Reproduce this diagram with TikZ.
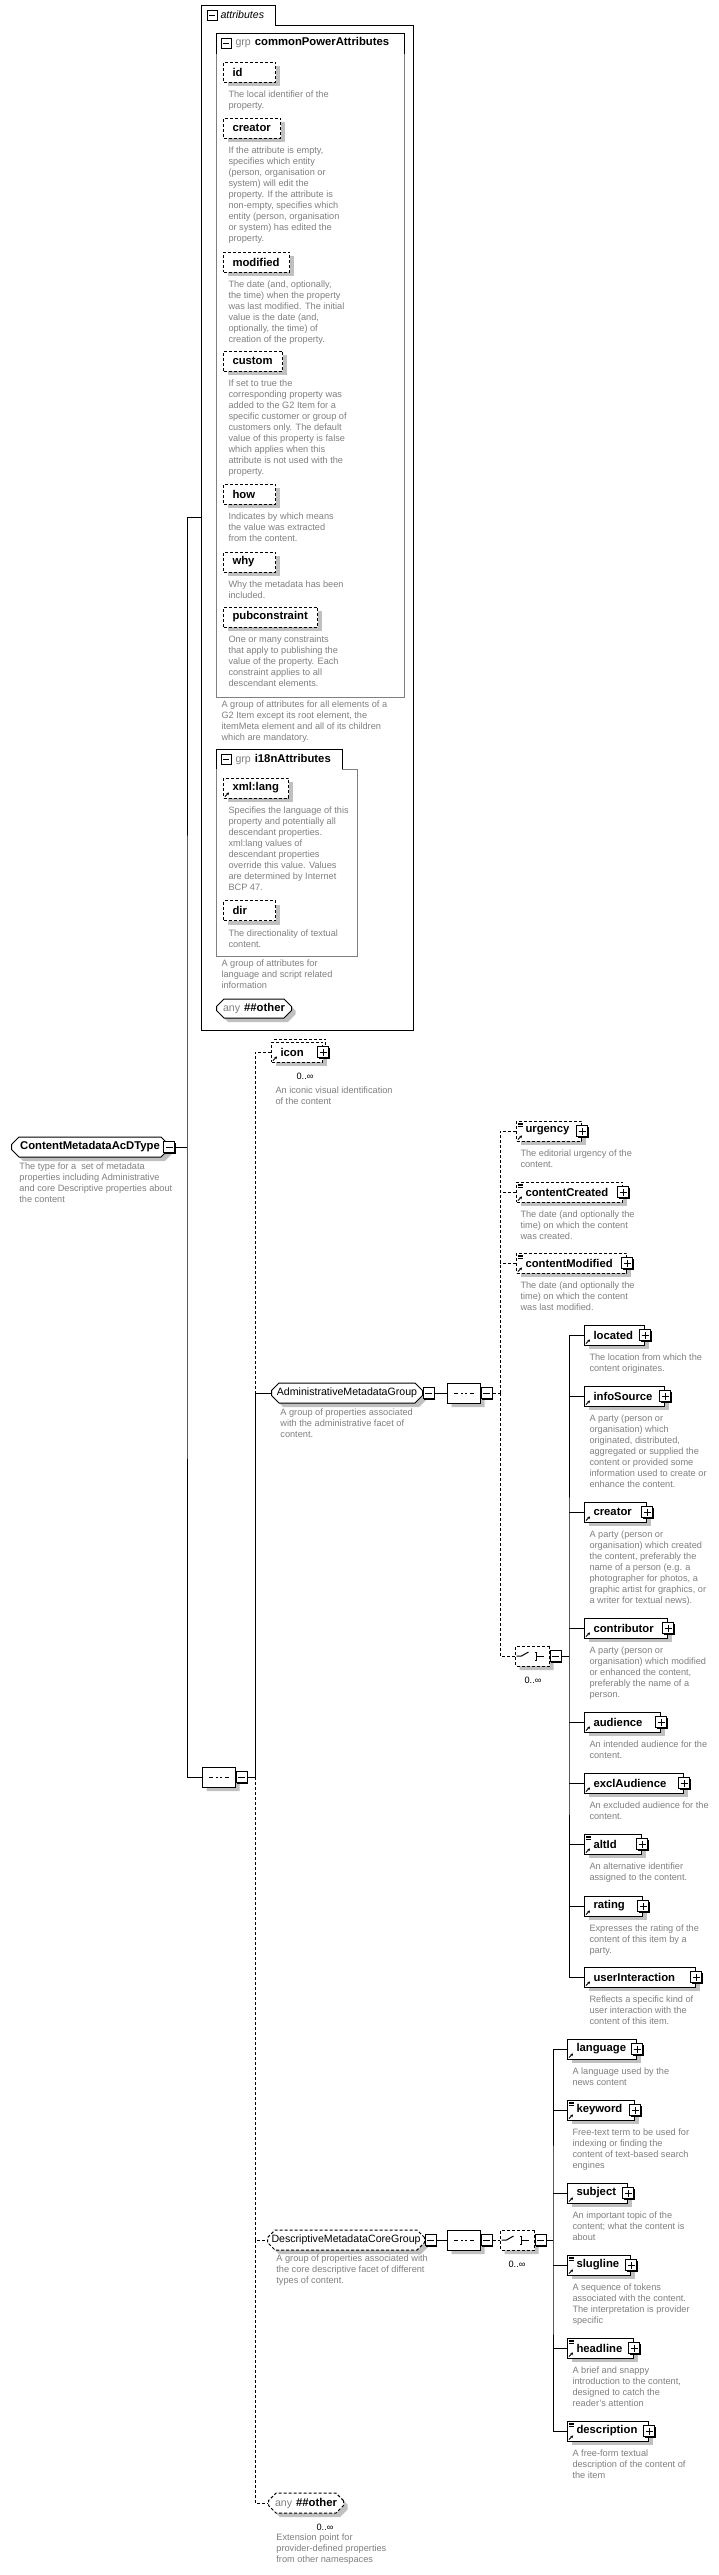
\documentclass[tikz,border=0pt]{standalone}
\usepackage{fontspec}
\setmainfont{Liberation Sans}
\usepackage{tikz}
\usetikzlibrary{arrows.meta,positioning,shapes.misc,shadows}
\definecolor{ink}{HTML}{000000}
\definecolor{muted}{HTML}{808080}
\definecolor{shadowgray}{HTML}{C0C0C0}
\definecolor{edgegray}{HTML}{808080}
\newcommand\lblfont{\fontsize{11.3}{13}\selectfont\bfseries\hyphenpenalty=10000 }
\newcommand\grpfont{\fontsize{10.6}{13}\selectfont\hyphenpenalty=10000 }
\newcommand\dscfont{\fontsize{9.2}{11}\selectfont}
\tikzset{
  shdw/.style={drop shadow={shadow xshift=4pt,shadow yshift=-4pt,fill=shadowgray,opacity=1}},
  opt/.style={dash pattern=on 3pt off 2pt},
  boxarea/.style={inner sep=0pt,anchor=north west},
  elem/.style={draw,fill=white,shdw,anchor=west,minimum height=20pt,inner xsep=9pt,inner ysep=0pt,text width=#1,align=left,font=\lblfont},
  attr/.style={elem=#1,opt},
  backbox/.style={draw,opt,fill=white,anchor=west,minimum width=51pt,minimum height=20pt,inner sep=0pt},
  refmark/.style={path picture={\draw[solid,line width=1pt,-{Stealth[length=2.5pt,width=3pt]}] ([shift={(1.5pt,1.5pt)}]path picture bounding box.south west) -- ++(4pt,4pt);}},
  simpleref/.style={path picture={
    \draw[solid,line width=1pt,-{Stealth[length=2.5pt,width=3pt]}] ([shift={(1.5pt,1.5pt)}]path picture bounding box.south west) -- ++(4pt,4pt);
    \foreach \d in {2pt,3.8pt,5.6pt}
      \draw[solid,line width=0.7pt] ([shift={(1.5pt,-\d)}]path picture bounding box.north west) -- ++(5pt,0pt);}},
  octa/.style={chamfered rectangle,chamfered rectangle xsep=4pt,draw,fill=white,shdw,minimum height=20pt,inner sep=0pt,anchor=west},
  grp/.style={octa,minimum width=#1,font=\grpfont},
  seqn/.style={octa,minimum width=33pt,path picture={
    \draw[solid] ([xshift=-10pt]path picture bounding box.center) -- ([xshift=10pt]path picture bounding box.center);
    \foreach \d in {-4.5pt,0pt,4.5pt}
      \fill ([xshift=\d]path picture bounding box.center) +(-1.4pt,-1.4pt) rectangle +(1.4pt,1.4pt);}},
  choicen/.style={octa,opt,minimum width=34pt,path picture={
    \coordinate (pc) at (path picture bounding box.center);
    \draw[solid] ([xshift=-16pt]pc) -- ([xshift=-11pt]pc) -- ([shift={(-4pt,4pt)}]pc);
    \draw[solid] ([shift={(2pt,4pt)}]pc) -- ([shift={(4pt,4pt)}]pc) -- ([shift={(4pt,-4pt)}]pc) -- ([shift={(2pt,-4pt)}]pc);
    \draw[solid] ([xshift=4pt]pc) -- ([xshift=11pt]pc);
    \foreach \d in {-4pt,0pt,4pt}
      \fill ([shift={(0pt,\d)}]pc) +(-1.3pt,-1.3pt) rectangle +(1.3pt,1.3pt);}},
  tog/.style={draw,solid,fill=white,minimum size=11pt,inner sep=0pt,line width=0.8pt,drop shadow={shadow xshift=1pt,shadow yshift=-1pt,fill=black,opacity=1}},
  minusbox/.style={tog,path picture={\draw ([xshift=-3.5pt]path picture bounding box.center) -- ([xshift=3.5pt]path picture bounding box.center);}},
  plusbox/.style={tog,path picture={\draw ([xshift=-3.5pt]path picture bounding box.center) -- ([xshift=3.5pt]path picture bounding box.center) ([yshift=-3.5pt]path picture bounding box.center) -- ([yshift=3.5pt]path picture bounding box.center);}},
  hdrtog/.style={draw,minimum size=10pt,inner sep=0pt,line width=0.9pt,path picture={\draw ([xshift=-3pt]path picture bounding box.center) -- ([xshift=3pt]path picture bounding box.center);}},
  desc/.style={font=\dscfont,text=muted,align=left,inner sep=0pt},
  mult/.style={font=\dscfont,text=ink,inner sep=0pt},
}
\begin{document}
\begin{tikzpicture}[x=1pt,y=-1pt,line width=1pt]
  \fill[white] (0,0) rectangle (719,2575);
  \useasboundingbox (0,0) rectangle (719,2575);

  % attributes
  \node[boxarea,minimum width=211pt,minimum height=1024pt] (attrs) at (201,5) {};
  \node[boxarea,minimum width=73pt,minimum height=19pt] (atab) at (201,5) {};
  \draw (attrs.south west) -- (atab.north west) -- (atab.north east) -- (atab.south east) -- (atab.south east -| attrs.east) -- (attrs.south east) -- cycle;
  \node[hdrtog] (atab-t) at (212,15) {};
  \node[anchor=west,inner sep=0pt,font=\grpfont\itshape] (atab-l) at (220,15) {attributes};

  \node[boxarea,minimum width=187pt,minimum height=663pt] (grp1) at (216,33) {};
  \node[boxarea,minimum width=187pt,minimum height=20pt] (hdr1) at (216,33) {};
  \draw[edgegray] (hdr1.south west) -- (grp1.south west) -- (grp1.south east) -- (hdr1.south east);
  \draw (hdr1.south west) -- (hdr1.north west) -- (hdr1.north east) -- (hdr1.south east);
  \node[hdrtog] (hdr1-t) at (226,43) {};
  \node[anchor=west,inner sep=0pt,font=\lblfont] (hdr1-l) at (235,43) {{\mdseries\grpfont\textcolor{muted}{grp}}\hspace{4pt}commonPowerAttributes};

  \node[attr=34pt] (id) at (223,72) {id};
  \node[desc,below right=8pt and 5pt of id.south west] (id-d) {The local identifier of the\\property.};
  \node[attr=39pt] (creatorA) at (223,128) {creator};
  \node[desc,below right=8pt and 5pt of creatorA.south west] (creatorA-d) {If the attribute is empty,\\specifies which entity\\(person, organisation or\\system) will edit the\\property. If the attribute is\\non-empty, specifies which\\entity (person, organisation\\or system) has edited the\\property.};
  \node[attr=48pt] (modified) at (223,262) {modified};
  \node[desc,below right=8pt and 5pt of modified.south west] (modified-d) {The date (and, optionally,\\the time) when the property\\was last modified. The initial\\value is the date (and,\\optionally, the time) of\\creation of the property.};
  \node[attr=41pt] (custom) at (223,361) {custom};
  \node[desc,below right=8pt and 5pt of custom.south west] (custom-d) {If set to true the\\corresponding property was\\added to the G2 Item for a\\specific customer or group of\\customers only. The default\\value of this property is false\\which applies when this\\attribute is not used with the\\property.};
  \node[attr=34pt] (how) at (223,494) {how};
  \node[desc,below right=8pt and 5pt of how.south west] (how-d) {Indicates by which means\\the value was extracted\\from the content.};
  \node[attr=34pt] (why) at (223,562) {why};
  \node[desc,below right=8pt and 5pt of why.south west] (why-d) {Why the metadata has been\\included.};
  \node[attr=76pt] (pubconstraint) at (223,617) {pubconstraint};
  \node[desc,below right=8pt and 5pt of pubconstraint.south west] (pubconstraint-d) {One or many constraints\\that apply to publishing the\\value of the property. Each\\constraint applies to all\\descendant elements.};
  \node[desc,below right=3.5pt and 5pt of grp1.south west] (grp1-d) {A group of attributes for all elements of a\\G2 Item except its root element, the\\itemMeta element and all of its children\\which are mandatory.};

  \node[boxarea,minimum width=140pt,minimum height=206pt] (grp2) at (216,749) {};
  \node[boxarea,minimum width=125pt,minimum height=19pt] (hdr2) at (216,749) {};
  \draw[edgegray] (hdr2.south west) -- (grp2.south west) -- (grp2.south east) -- (grp2.north east |- hdr2.south) -- (hdr2.south east);
  \draw (hdr2.south west) -- (hdr2.north west) -- (hdr2.north east) -- (hdr2.south east);
  \node[hdrtog] (hdr2-t) at (226,759) {};
  \node[anchor=west,inner sep=0pt,font=\lblfont] (hdr2-l) at (235,759) {{\mdseries\grpfont\textcolor{muted}{grp}}\hspace{4pt}i18nAttributes};

  \node[attr=47pt,refmark] (xmllang) at (223,788) {xml:lang};
  \node[desc,below right=8pt and 5pt of xmllang.south west] (xmllang-d) {Specifies the language of this\\property and potentially all\\descendant properties.\\xml:lang values of\\descendant properties\\override this value. Values\\are determined by Internet\\BCP 47.};
  \node[attr=34pt] (dir) at (223,910.5) {dir};
  \node[desc,below right=8pt and 5pt of dir.south west] (dir-d) {The directionality of textual\\content.};
  \node[desc,below right=3.5pt and 5pt of grp2.south west] (grp2-d) {A group of attributes for\\language and script related\\information};

  \node[octa,minimum width=75pt,minimum height=19pt,font=\lblfont] (anyA) at (216,1008.5) {{\mdseries\grpfont\textcolor{muted}{any}}\hspace{4pt}\#\#other};

  % type and main sequence
  \node[octa,minimum width=157pt,font=\lblfont] (ct) at (11,1147) {ContentMetadataAcDType};
  \node[desc,below right=8.5pt and 4pt of ct.south west] (ct-d) {The type for a \ set of metadata\\properties including Administrative\\and core Descriptive properties about\\the content};
  \node[seqn] (seq0) at (202,1777) {};

  \node[backbox] (icon-bk) at (274,1049) {};
  \node[elem=33pt,opt,refmark] (icon) at (271,1052) {icon};
  \node[mult] (icon-m) at (305,1076) {0..∞};
  \node[desc,below right=24pt and 4pt of icon.south west] (icon-d) {An iconic visual identification\\of the content};

  % administrative group
  \node[grp=151pt] (admin) at (271,1393) {AdministrativeMetadataGroup};
  \node[desc,below right=8.5pt and 5pt of admin.south west] (admin-d) {A group of properties associated\\with the administrative facet of\\content.};
  \node[seqn] (seq1) at (447,1393) {};
  \node[elem=47pt,opt,simpleref] (urgency) at (516,1131) {urgency};
  \node[desc,below right=8pt and 4pt of urgency.south west] (urgency-d) {The editorial urgency of the\\content.};
  \node[elem=88pt,opt,simpleref] (cCreated) at (516,1192) {contentCreated};
  \node[desc,below right=8pt and 4pt of cCreated.south west] (cCreated-d) {The date (and optionally the\\time) on which the content\\was created.};
  \node[elem=92pt,opt,simpleref] (cModified) at (516,1263) {contentModified};
  \node[desc,below right=8pt and 4pt of cModified.south west] (cModified-d) {The date (and optionally the\\time) on which the content\\was last modified.};
  \node[choicen] (ch1) at (515,1656) {};
  \node[mult] (ch1-m) at (533,1680) {0..∞};

  \node[elem=42pt,refmark] (located) at (584,1335) {located};
  \node[desc,below right=8pt and 5pt of located.south west] (located-d) {The location from which the\\content originates.};
  \node[elem=62pt,refmark] (infoSource) at (584,1396) {infoSource};
  \node[desc,below right=8pt and 5pt of infoSource.south west] (infoSource-d) {A party (person or\\organisation) which\\originated, distributed,\\aggregated or supplied the\\content or provided some\\information used to create or\\enhance the content.};
  \node[elem=44pt,refmark] (creatorE) at (584,1512) {creator};
  \node[desc,below right=8pt and 5pt of creatorE.south west] (creatorE-d) {A party (person or\\organisation) which created\\the content, preferably the\\name of a person (e.g. a\\photographer for photos, a\\graphic artist for graphics, or\\a writer for textual news).};
  \node[elem=65pt,refmark] (contributor) at (584,1628) {contributor};
  \node[desc,below right=8pt and 5pt of contributor.south west] (contributor-d) {A party (person or\\organisation) which modified\\or enhanced the content,\\preferably the name of a\\person.};
  \node[elem=58pt,refmark] (audience) at (584,1722) {audience};
  \node[desc,below right=8pt and 5pt of audience.south west] (audience-d) {An intended audience for the\\content.};
  \node[elem=81pt,refmark] (exclAudience) at (584,1783) {exclAudience};
  \node[desc,below right=8pt and 5pt of exclAudience.south west] (exclAudience-d) {An excluded audience for the\\content.};
  \node[elem=39pt,simpleref] (altId) at (584,1844) {altId};
  \node[desc,below right=8pt and 5pt of altId.south west] (altId-d) {An alternative identifier\\assigned to the content.};
  \node[elem=40pt,refmark] (rating) at (584,1906) {rating};
  \node[desc,below right=8pt and 5pt of rating.south west] (rating-d) {Expresses the rating of the\\content of this item by a\\party.};
  \node[elem=93pt,refmark] (userInt) at (584,1977) {userInteraction};
  \node[desc,below right=8pt and 5pt of userInt.south west] (userInt-d) {Reflects a specific kind of\\user interaction with the\\content of this item.};

  % descriptive group
  \node[grp=155pt,opt] (descg) at (267,2240) {DescriptiveMetadataCoreGroup};
  \node[desc,below right=8pt and 5pt of descg.south west] (descg-d) {A group of properties associated with\\the core descriptive facet of different\\types of content.};
  \node[seqn] (seq2) at (447,2240) {};
  \node[choicen] (ch2) at (500,2240) {};
  \node[mult] (ch2-m) at (517,2264) {0..∞};

  \node[elem=51pt,refmark] (language) at (567,2049) {language};
  \node[desc,below right=8pt and 5pt of language.south west] (language-d) {A language used by the\\news content};
  \node[elem=49pt,simpleref] (keyword) at (567,2110) {keyword};
  \node[desc,below right=8pt and 5pt of keyword.south west] (keyword-d) {Free-text term to be used for\\indexing or finding the\\content of text-based search\\engines};
  \node[elem=42pt,refmark] (subject) at (567,2193) {subject};
  \node[desc,below right=8pt and 5pt of subject.south west] (subject-d) {An important topic of the\\content; what the content is\\about};
  \node[elem=45pt,simpleref] (slugline) at (567,2265) {slugline};
  \node[desc,below right=8pt and 5pt of slugline.south west] (slugline-d) {A sequence of tokens\\associated with the content.\\The interpretation is provider\\specific};
  \node[elem=48pt,simpleref] (headline) at (567,2348) {headline};
  \node[desc,below right=8pt and 5pt of headline.south west] (headline-d) {A brief and snappy\\introduction to the content,\\designed to catch the\\reader's attention};
  \node[elem=63pt,simpleref] (description) at (567,2431) {description};
  \node[desc,below right=8pt and 5pt of description.south west] (description-d) {A free-form textual\\description of the content of\\the item};

  \node[octa,opt,minimum width=75pt,font=\lblfont] (anyo) at (268,2503) {{\mdseries\grpfont\textcolor{muted}{any}}\hspace{4pt}\#\#other};
  \node[mult] (anyo-m) at (325,2527) {0..∞};
  \node[desc,below right=24pt and 4pt of anyo.south west] (anyo-d) {Extension point for\\provider-defined properties\\from other namespaces};

  % toggles
  \node[minusbox] (ct-t) at (ct.east) {};
  \foreach \n in {admin,descg,seq0,seq1,seq2,ch1,ch2}
    \node[minusbox,anchor=west] (\n-t) at (\n.east) {};
  \foreach \n in {icon,urgency,cCreated,cModified,located,infoSource,creatorE,contributor,audience,exclAudience,altId,rating,userInt,language,keyword,subject,slugline,headline,description}
    \node[plusbox] (\n-t) at (\n.east) {};

  % connectors
  \coordinate (s0) at (187,1147);
  \coordinate (s1) at (255,1777);
  \coordinate (s2) at (500,1393);
  \coordinate (s3) at (569,1656);
  \coordinate (s4) at (553,2240);
  \draw (ct-t.east) -- (s0);
  \draw (attrs.west) -| (s0) |- (seq0.west);
  \draw (seq0-t.east) -- (s1);
  \draw[opt] (icon.west) -| (s1 |- admin.west);
  \draw (admin.west) -| (s1);
  \draw[opt] (s1) |- (descg.west);
  \draw[opt] (s1 |- descg.west) |- (anyo.west);

  \draw (admin-t.east) -- (seq1.west);
  \draw[opt] (seq1-t.east) -- (s2);
  \draw[opt] (urgency.west) -| (s2);
  \draw[opt] (cCreated.west) -- (cCreated.west -| s2);
  \draw[opt] (cModified.west) -- (cModified.west -| s2);
  \draw[opt] (s2) |- (ch1.west);
  \draw (ch1-t.east) -- (s3);
  \draw (located.west) -| (s3) |- (userInt.west);
  \foreach \n in {infoSource,creatorE,contributor,audience,exclAudience,altId,rating}
    \draw (\n.west) -- (\n.west -| s3);

  \draw (descg-t.east) -- (seq2.west);
  \draw[opt] (seq2-t.east) -- (ch2.west);
  \draw (ch2-t.east) -- (s4);
  \draw (language.west) -| (s4) |- (description.west);
  \foreach \n in {keyword,subject,slugline,headline}
    \draw (\n.west) -- (\n.west -| s4);
\end{tikzpicture}
\end{document}
